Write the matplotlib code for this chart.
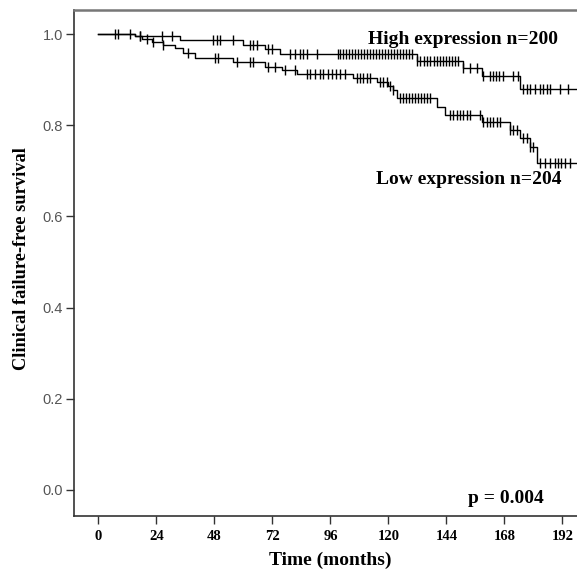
import numpy as np
import matplotlib
matplotlib.use("Agg")
import matplotlib.pyplot as plt

# step points (time in months, survival after the step)
high_times = [0, 15.1, 33.7, 59.8, 68.9, 75.1, 131.8, 150.8, 158.7, 174.4, 198]
high_surv = [1.0, 0.995, 0.987, 0.976, 0.967, 0.956, 0.940, 0.925, 0.909, 0.879, 0.879]

low_times = [0, 15.1, 18.0, 22.1, 26.7, 31.7, 35.0, 39.9, 55.6, 68.9, 75.9, 82.1, 105.3,
             115.2, 119.8, 121.8, 123.5, 140.0, 143.4, 158.7, 170.3, 174.4, 178.5, 181.4, 198]
low_surv = [1.0, 0.995, 0.990, 0.983, 0.976, 0.969, 0.958, 0.947, 0.939, 0.928, 0.920,
            0.912, 0.904, 0.895, 0.886, 0.877, 0.860, 0.840, 0.822, 0.807, 0.790, 0.772,
            0.752, 0.717, 0.717]

# censored observations (months)
high_cens = [6.8, 8.1, 13.0, 17.2, 26.3, 30.4, 47.4, 49.0, 50.3, 55.6, 62.7, 63.9, 65.5,
             70.1, 71.7, 79.2, 81.3, 83.4, 84.6, 86.3, 90.4, 99.1, 99.9, 101.2, 102.4,
             103.6, 104.9, 106.1, 107.4, 108.6, 109.9, 111.1, 112.4, 113.6, 114.8, 116.1,
             117.3, 118.6, 119.8, 121.1, 122.3, 123.6, 124.8, 126.0, 127.3, 128.5, 129.8,
             131.8, 133.0, 134.7, 135.9, 137.2, 138.8, 140.1, 141.3, 142.5, 143.8, 145.0,
             146.3, 147.5, 148.7, 150.8, 153.7, 156.6, 159.1, 162.0, 163.2, 164.5, 165.7,
             167.4, 171.5, 173.6, 175.6, 177.3, 178.5, 180.6, 182.7, 183.9, 185.6, 186.8,
             190.9, 194.2]
low_cens = [17.2, 20.1, 22.5, 26.7, 37.0, 48.2, 49.4, 57.3, 62.7, 63.9, 70.1, 73.0, 77.2,
            81.3, 86.3, 87.5, 89.6, 91.6, 92.9, 95.0, 96.6, 98.3, 99.9, 102.0, 107.0,
            108.2, 109.4, 111.1, 112.3, 116.5, 117.7, 119.4, 120.6, 121.8, 124.7, 126.0,
            127.2, 128.5, 129.7, 131.0, 132.2, 133.4, 134.7, 135.9, 137.2, 145.4, 146.7,
            148.3, 149.6, 150.8, 152.4, 153.7, 157.8, 159.1, 160.7, 162.0, 163.2, 164.9,
            166.1, 170.3, 171.5, 173.2, 175.6, 177.3, 178.5, 179.8, 182.7, 184.8, 186.8,
            188.9, 190.1, 191.4, 193.0, 195.1]

xticks = [0, 24, 48, 72, 96, 120, 144, 168, 192]
yticks = [0.0, 0.2, 0.4, 0.6, 0.8, 1.0]

serif = "Liberation Serif"
sans = "Liberation Sans"

fig = plt.figure(figsize=(5.77, 5.73), dpi=100)
ax = fig.add_axes([0.1282, 0.0995, 0.8718, 0.883])


def surv_at(times, surv, t):
    idx = np.searchsorted(times, t, side="right") - 1
    return np.array(surv)[idx]


for times, surv, cens in [(high_times, high_surv, high_cens), (low_times, low_surv, low_cens)]:
    ax.step(times, surv, where="post", color="black", lw=1.0)
    ax.plot(cens, surv_at(times, surv, cens), ls="none", marker="|", ms=7,
            mew=1.0, color="black")

ax.set_xlim(-10.1, 198)
ax.set_ylim(-0.057, 1.0526)
ax.set_xticks(xticks)
ax.set_yticks(yticks)
ax.set_yticklabels([f"{v:.1f}" for v in yticks], fontfamily=sans, fontsize=10.5, color="#555555")
ax.set_xticklabels([str(v) for v in xticks], fontfamily=serif, fontweight="bold", fontsize=10.5)
ax.tick_params(axis="both", direction="out", length=6, width=1.0, color="#333333")
ax.tick_params(axis="x", pad=4)
ax.tick_params(axis="y", pad=2)

ax.spines["right"].set_visible(False)
ax.spines["top"].set_color("#777777")
ax.spines["top"].set_linewidth(1.8)
ax.spines["left"].set_color("#333333")
ax.spines["bottom"].set_color("#333333")
ax.spines["left"].set_linewidth(1.2)
ax.spines["bottom"].set_linewidth(1.2)

ax.set_xlabel("Time (months)", fontfamily=serif, fontweight="bold", fontsize=14, va="center")
ax.xaxis.set_label_coords(0.509, -0.087)
ax.set_ylabel("Clinical failure-free survival", fontfamily=serif, fontweight="bold",
              fontsize=13.2, va="center")
ax.yaxis.set_label_coords(-0.105, 0.508)

ax.text(151.0, 0.989, "High expression n=200", fontfamily=serif, fontweight="bold",
        fontsize=14, ha="center", va="center")
ax.text(153.1, 0.680, "Low expression n=204", fontfamily=serif, fontweight="bold",
        fontsize=14, ha="center", va="center")
ax.text(168.6, -0.018, "p = 0.004", fontfamily=serif, fontweight="bold",
        fontsize=14, ha="center", va="center")

fig.savefig("out.png", dpi=100)
